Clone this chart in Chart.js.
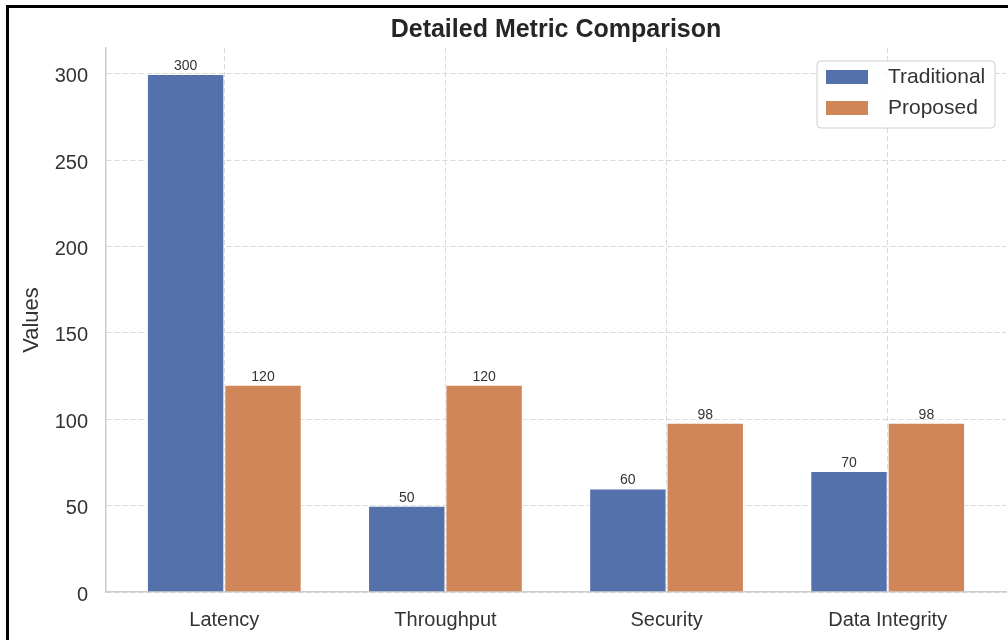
<!DOCTYPE html>
<html>
<head>
<meta charset="utf-8">
<script src="https://cdn.jsdelivr.net/npm/chart.js@4/dist/chart.umd.min.js"></script>
<style>
    html, body { margin: 0; padding: 0; background: #fff; }
    #wrap { position: relative; width: 1008px; height: 640px; overflow: hidden; }
    #frame { position: absolute; left: 6px; top: 5px; right: -10px; bottom: -10px; border-left: 3px solid #000; border-top: 3px solid #000; pointer-events: none; }
    canvas { position: absolute; left: 0; top: 0; }
</style>
</head>
<body>
<div id="wrap">
    <canvas id="metricChart" width="1008" height="640"></canvas>
    <div id="frame"></div>
</div>
<script>
const categories = ['Latency', 'Throughput', 'Security', 'Data Integrity'];
const traditionalValues = [300, 50, 60, 70];
const proposedValues = [120, 120, 98, 98];
const yTicks = [0, 50, 100, 150, 200, 250, 300];

const seriesColors = {
    traditional: '#5471AB',
    proposed: '#D1865A'
};

const fontFamily = '"Liberation Sans", Arial, sans-serif';

function toPoints(values) {
    return values.map(function (value, index) {
        return { x: index, y: value };
    });
}

const valueLabels = {
    id: 'valueLabels',
    afterDatasetsDraw: function (chart) {
        const ctx = chart.ctx;
        ctx.save();
        ctx.font = '14px ' + fontFamily;
        ctx.fillStyle = '#333';
        ctx.textAlign = 'center';
        ctx.textBaseline = 'bottom';
        chart.data.datasets.forEach(function (dataset, i) {
            chart.getDatasetMeta(i).data.forEach(function (bar, j) {
                ctx.fillText(String(dataset.data[j].y), bar.x, bar.y - 1);
            });
        });
        ctx.restore();
    }
};

const boxedLegend = {
    id: 'boxedLegend',
    afterDraw: function (chart) {
        const ctx = chart.ctx;
        const left = 817, top = 61, width = 178, height = 67;
        ctx.save();
        ctx.beginPath();
        ctx.roundRect(left, top, width, height, 4);
        ctx.fillStyle = 'rgba(255,255,255,0.85)';
        ctx.fill();
        ctx.strokeStyle = '#d0d0d0';
        ctx.lineWidth = 1;
        ctx.stroke();
        ctx.font = '21px ' + fontFamily;
        ctx.textBaseline = 'middle';
        chart.data.datasets.forEach(function (dataset, i) {
            const rowY = 77 + i * 31;
            ctx.fillStyle = dataset.backgroundColor;
            ctx.fillRect(826, rowY - 7, 42, 14);
            ctx.fillStyle = '#333';
            ctx.fillText(dataset.label, 888, rowY);
        });
        ctx.restore();
    }
};

function axisBorder() {
    return { display: true, color: '#cccccc', width: 1.5, dash: [5, 3] };
}

function gridLines() {
    return { color: '#d9d9d9', lineWidth: 1, tickLength: 0, offset: false };
}

new Chart(document.getElementById('metricChart'), {
    type: 'bar',
    data: {
        datasets: [
            {
                label: 'Traditional',
                data: toPoints(traditionalValues),
                backgroundColor: seriesColors.traditional,
                borderColor: '#fff',
                borderWidth: 1
            },
            {
                label: 'Proposed',
                data: toPoints(proposedValues),
                backgroundColor: seriesColors.proposed,
                borderColor: '#fff',
                borderWidth: 1
            }
        ]
    },
    options: {
        responsive: false,
        animation: false,
        layout: { padding: { left: 0, right: 2, top: 0, bottom: 0 } },
        datasets: {
            bar: { categoryPercentage: 0.7, barPercentage: 1.0 }
        },
        plugins: {
            legend: { display: false },
            tooltip: { enabled: false },
            title: {
                display: true,
                fullSize: false,
                text: 'Detailed Metric Comparison',
                color: '#262626',
                font: { family: fontFamily, size: 25, weight: 'bold' },
                padding: { top: 15, bottom: 3 }
            }
        },
        scales: {
            x: {
                type: 'linear',
                offset: false,
                min: -0.535,
                max: 3.535,
                afterBuildTicks: function (scale) {
                    scale.ticks = categories.map(function (c, i) { return { value: i }; });
                },
                afterFit: function (scale) { scale.height = 48; },
                grid: gridLines(),
                border: axisBorder(),
                ticks: {
                    autoSkip: false,
                    maxRotation: 0,
                    padding: 16,
                    color: '#333',
                    font: { family: fontFamily, size: 20 },
                    callback: function (value) { return categories[value]; }
                }
            },
            y: {
                min: 0,
                max: 315,
                afterBuildTicks: function (scale) {
                    scale.ticks = yTicks.map(function (v) { return { value: v }; });
                },
                afterFit: function (scale) { scale.width = 106; },
                grid: gridLines(),
                border: axisBorder(),
                ticks: {
                    padding: 18,
                    labelOffset: 3,
                    color: '#333',
                    font: { family: fontFamily, size: 20 }
                },
                title: {
                    display: true,
                    text: 'Values',
                    color: '#333',
                    font: { family: fontFamily, size: 22 },
                    padding: { top: 19, bottom: 0 }
                }
            }
        }
    },
    plugins: [valueLabels, boxedLegend]
});
</script>
</body>
</html>
